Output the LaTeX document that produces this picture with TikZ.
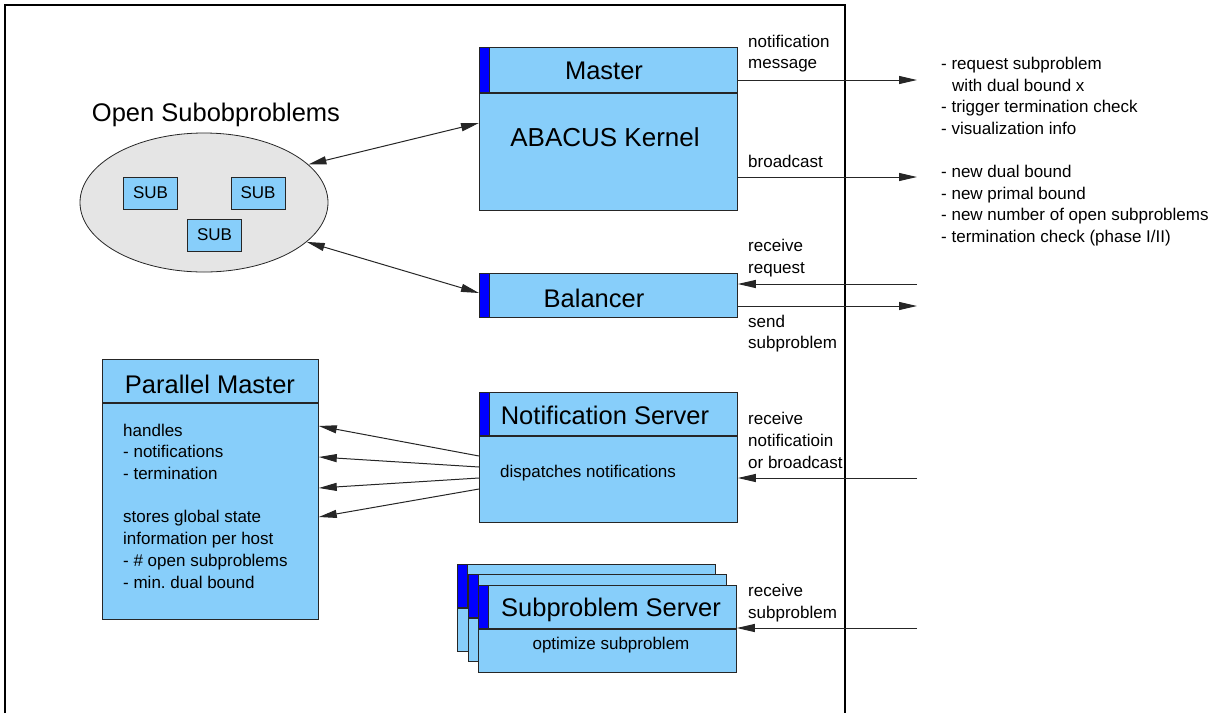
\documentclass[tikz,border=0pt]{standalone}
\usepackage{fontspec}
\setmainfont{Liberation Sans}
\usetikzlibrary{arrows.meta, positioning, calc, shapes.geometric}
\definecolor{sky}{RGB}{135,206,250}
\definecolor{stripe}{RGB}{0,0,255}
\definecolor{pool}{RGB}{229,229,229}
\tikzset{
  pane/.style={draw=black!85, fill=sky, line width=0.8pt, inner sep=0pt, minimum width=258pt},
  tab/.style={draw=black!85, fill=stripe, line width=0.8pt, inner sep=0pt, minimum width=10pt, anchor=north west},
  sub/.style={draw=black!85, fill=sky, line width=0.8pt, inner sep=0pt, minimum width=54pt, minimum height=32pt,
    font=\fontsize{17}{21.7}\selectfont},
  big/.style={font=\fontsize{25.5}{30}\selectfont, inner sep=0pt},
  small/.style={font=\fontsize{17}{21.7}\selectfont, inner sep=0pt, align=left, anchor=west},
  arr/.style={-{Triangle[length=18pt, width=8pt]}, line width=1pt, draw=black!85},
  dbl/.style={{Triangle[length=18pt, width=8pt]}-{Triangle[length=18pt, width=8pt]}, line width=1pt, draw=black!85},
}
\begin{document}
\begin{tikzpicture}[x=1pt, y=-1pt]
    \useasboundingbox (0,0) rectangle (1219,713);
    \draw[line width=2pt] (5,713) -- (5,5) -- (845,5) -- (845,713);

    \node[draw=black!85, fill=pool, line width=0.8pt, ellipse, inner sep=0pt, minimum width=248pt, minimum height=139pt] (opn) at (204,202.5) {};
    \node[big] (topn) at (216,115) {Open Subobproblems};
    \node[sub] (sub1) at (150.5,193) {SUB};
    \node[sub] (sub2) at (258,193) {SUB};
    \node[sub] (sub3) at (214.5,235) {SUB};

    \node[pane, minimum height=45pt, anchor=north west] (mhead) at (479,47) {};
    \node[pane, minimum height=117pt, anchor=north] (mbody) at (mhead.south) {};
    \node[tab, minimum height=45pt] (mtab) at (mhead.north west) {};
    \node[big] (tmaster) at (604,71) {Master};
    \node[big, font=\fontsize{26}{30}\selectfont] (tkernel) at (605,137) {ABACUS Kernel};

    \node[pane, minimum height=44pt, anchor=north west] (bal) at (479,273) {};
    \node[tab, minimum height=44pt] (btab) at (bal.north west) {};
    \node[big] (tbal) at (594,298) {Balancer};

    \node[pane, minimum width=216pt, minimum height=43pt, anchor=north west] (phead) at (102,359) {};
    \node[pane, minimum width=216pt, minimum height=216pt, anchor=north] (pbody) at (phead.south) {};
    \node[big] (tpar) at (210,384) {Parallel Master};
    \node[small] (tpbody) at (123,506) {handles\\- notifications\\- termination\\[21.7pt]stores global state\\information per host\\- \# open subproblems\\- min.\ dual bound};

    \node[pane, minimum height=43pt, anchor=north west] (nhead) at (479,392) {};
    \node[pane, minimum height=86pt, anchor=north] (nbody) at (nhead.south) {};
    \node[tab, minimum height=43pt] (ntab) at (nhead.north west) {};
    \node[big] (tnot) at (605,415) {Notification Server};
    \node[small] (tdisp) at (500,473) {dispatches notifications};

    \foreach \i/\x/\y in {1/457/564, 2/468/574, 3/478/585} {
      \node[pane, minimum height=43pt, anchor=north west] (shead\i) at (\x,\y) {};
      \node[pane, minimum height=43pt, anchor=north] (sbody\i) at (shead\i.south) {};
      \node[tab, minimum height=43pt] (stab\i) at (shead\i.north west) {};
    }
    \node[big] (tsub) at (611,610) {Subproblem Server};
    \node[small, anchor=center] (topt) at (611,645) {optimize subproblem};

    \coordinate (o1) at (917,80);
    \coordinate (o2) at (917,177);
    \coordinate (i1) at (917,284);
    \coordinate (o3) at (917,306);
    \coordinate (i2) at (917,478);
    \coordinate (i3) at (917,628);
    \draw[arr] (o1 -| mhead.east) -- (o1);
    \draw[arr] (o2 -| mbody.east) -- (o2);
    \draw[arr] (i1) -- (i1 -| bal.east);
    \draw[arr] (o3 -| bal.east) -- (o3);
    \draw[arr] (i2) -- (i2 -| nbody.east);
    \draw[arr] (i3) -- (i3 -| sbody3.east);

    \draw[dbl] (opn.20) -- (mbody.west |- 0,123);
    \draw[dbl] (opn.-21) -- (bal.west |- 0,293);
    \foreach \a/\b in {456/426, 467/457, 478/488, 489/517}
      \draw[arr] (nbody.west |- 0,\a) -- (pbody.east |- 0,\b);

    \node[small] (lnote) at (748,53.5) {notification\\message};
    \node[small] (lbcast) at (748,161) {broadcast};
    \node[small] (lreq) at (748,258) {receive\\request};
    \node[small] (lsend) at (748,333.5) {send\\subproblem};
    \node[small] (lrecn) at (748,440.5) {receive\\notificatioin\\or broadcast};
    \node[small] (lrecs) at (748,603) {receive\\subproblem};

    \node[small] (mnote) at (941,96) {- request subproblem\\\hspace*{11pt}with dual bound x\\- trigger termination check\\- visualization info};
    \node[small] (mbcast) at (941,205.5) {- new dual bound\\- new primal bound\\- new number of open subproblems\\- termination check (phase I/II)};
\end{tikzpicture}
\end{document}
